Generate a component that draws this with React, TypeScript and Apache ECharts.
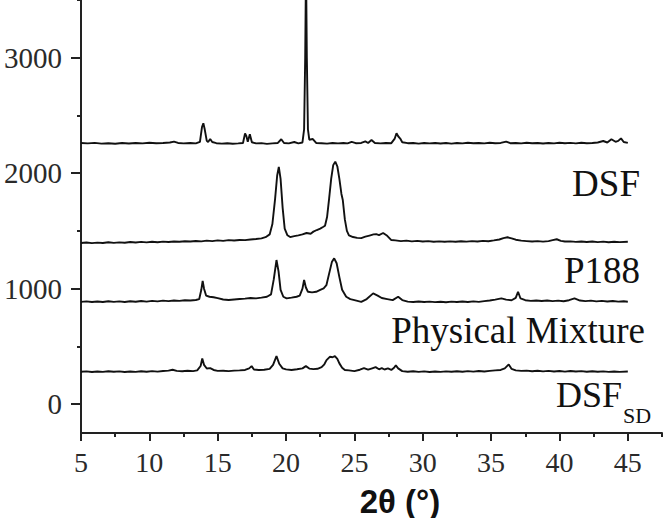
import React, { useEffect, useRef } from "react";
import * as echarts from "echarts";

const xMajorTicks = [5, 10, 15, 20, 25, 30, 35, 40, 45];
const xMinorTicks = [7.5, 12.5, 17.5, 22.5, 27.5, 32.5, 37.5, 42.5, 47.5];
const yMajorTicks = [0, 1000, 2000, 3000];
const yMinorTicks = [500, 1500, 2500, 3500];

const seriesNames = ["DSF", "P188", "Physical Mixture", "DSF_SD"];

const dsf: number[][] = [
  [5, 2262], [5.5, 2258], [6, 2263], [6.5, 2256], [7, 2260], [7.5, 2255], [8, 2261], [8.5, 2257], [9, 2262], [9.5, 2258],
  [10, 2264], [10.5, 2259], [11, 2262], [11.5, 2266], [11.8, 2274], [12.1, 2262], [12.5, 2258], [13, 2261], [13.4, 2258],
  [13.7, 2272], [13.85, 2400], [13.95, 2432], [14.05, 2380], [14.2, 2280], [14.3, 2270], [14.45, 2296], [14.6, 2270],
  [14.9, 2260], [15.3, 2256], [15.7, 2259], [16.1, 2255], [16.5, 2258], [16.85, 2262], [17.0, 2345], [17.1, 2320],
  [17.2, 2272], [17.35, 2337], [17.5, 2268], [17.8, 2258], [18.2, 2260], [18.6, 2254], [19.0, 2258], [19.4, 2262],
  [19.65, 2294], [19.85, 2262], [20.2, 2258], [20.6, 2270], [20.9, 2258], [21.2, 2266], [21.32, 2380], [21.4, 3000],
  [21.46, 3800], [21.52, 3000], [21.6, 2380], [21.7, 2290], [21.96, 2296], [22.2, 2262], [22.6, 2260], [23.0, 2256],
  [23.4, 2262], [23.8, 2258], [24.2, 2262], [24.5, 2258], [24.8, 2272], [25.1, 2260], [25.5, 2262], [25.8, 2276],
  [26.0, 2262], [26.25, 2288], [26.5, 2262], [26.9, 2258], [27.3, 2262], [27.7, 2260], [27.95, 2300], [28.08, 2346],
  [28.2, 2320], [28.35, 2300], [28.5, 2268], [28.9, 2260], [29.3, 2262], [29.7, 2256], [30.1, 2262], [30.5, 2258],
  [30.9, 2262], [31.3, 2257], [31.7, 2261], [32.1, 2256], [32.5, 2262], [32.9, 2258], [33.3, 2264], [33.7, 2259],
  [34.1, 2262], [34.5, 2258], [34.9, 2264], [35.3, 2260], [35.7, 2262], [36.1, 2274], [36.4, 2260], [36.8, 2262],
  [37.2, 2258], [37.6, 2264], [38.0, 2259], [38.4, 2262], [38.8, 2257], [39.2, 2262], [39.6, 2258], [40.0, 2264],
  [40.4, 2260], [40.8, 2263], [41.2, 2258], [41.6, 2264], [42.0, 2260], [42.4, 2262], [42.8, 2266], [43.2, 2279],
  [43.5, 2266], [43.8, 2294], [44.1, 2272], [44.3, 2280], [44.5, 2302], [44.7, 2270], [45, 2262],
];

const p188: number[][] = [
  [5, 1395], [5.4, 1400], [5.8, 1394], [6.2, 1399], [6.6, 1396], [7, 1402], [7.4, 1397], [7.8, 1401], [8.2, 1398],
  [8.6, 1404], [9, 1400], [9.4, 1405], [9.8, 1401], [10.2, 1406], [10.6, 1402], [11, 1407], [11.4, 1404], [11.8, 1409],
  [12.2, 1406], [12.6, 1411], [13, 1408], [13.4, 1413], [13.8, 1410], [14.2, 1416], [14.6, 1412], [15, 1418],
  [15.4, 1414], [15.8, 1420], [16.2, 1417], [16.6, 1422], [17, 1420], [17.4, 1426], [17.8, 1430], [18.2, 1436],
  [18.5, 1446], [18.8, 1470], [19.0, 1560], [19.2, 1780], [19.35, 1980], [19.47, 2054], [19.6, 1950], [19.75, 1700],
  [19.9, 1520], [20.1, 1462], [20.3, 1447], [20.6, 1455], [20.9, 1462], [21.2, 1470], [21.5, 1482], [21.8, 1476],
  [22.0, 1494], [22.25, 1508], [22.5, 1520], [22.7, 1534], [22.85, 1545], [23.0, 1620], [23.15, 1780], [23.3, 1950],
  [23.45, 2070], [23.6, 2100], [23.75, 2060], [23.9, 1950], [24.05, 1820], [24.15, 1768], [24.3, 1600], [24.45, 1500],
  [24.6, 1462], [24.9, 1447], [25.2, 1440], [25.5, 1438], [25.8, 1450], [26.1, 1460], [26.4, 1470], [26.6, 1472],
  [26.8, 1464], [27.1, 1482], [27.4, 1458], [27.7, 1421], [28.0, 1418], [28.4, 1412], [28.8, 1416], [29.2, 1410],
  [29.6, 1414], [30, 1408], [30.4, 1412], [30.8, 1406], [31.2, 1410], [31.6, 1406], [32, 1410], [32.4, 1406],
  [32.8, 1411], [33.2, 1407], [33.6, 1412], [34, 1409], [34.4, 1414], [34.8, 1411], [35.2, 1418], [35.6, 1426],
  [35.9, 1438], [36.2, 1445], [36.5, 1436], [36.8, 1424], [37.2, 1416], [37.6, 1412], [38, 1408], [38.4, 1412],
  [38.8, 1407], [39.2, 1412], [39.5, 1420], [39.8, 1428], [40.1, 1414], [40.4, 1408], [40.8, 1410], [41.2, 1405],
  [41.6, 1409], [42, 1404], [42.4, 1408], [42.8, 1403], [43.2, 1407], [43.6, 1402], [44, 1406], [44.4, 1403], [45, 1406],
];

const physicalMixture: number[][] = [
  [5, 886], [5.4, 890], [5.8, 884], [6.2, 889], [6.6, 885], [7, 891], [7.4, 886], [7.8, 890], [8.2, 885], [8.6, 891],
  [9, 887], [9.4, 893], [9.8, 888], [10.2, 894], [10.6, 890], [11, 896], [11.4, 892], [11.8, 898], [12.2, 894],
  [12.6, 900], [13, 897], [13.4, 902], [13.65, 910], [13.8, 990], [13.9, 1068], [14.0, 1000], [14.15, 940], [14.4, 930],
  [14.7, 926], [15.0, 918], [15.4, 906], [15.8, 902], [16.2, 906], [16.6, 910], [17.0, 914], [17.4, 919], [17.8, 916],
  [18.2, 922], [18.6, 930], [18.9, 950], [19.1, 1080], [19.3, 1248], [19.45, 1150], [19.6, 990], [19.8, 930],
  [20.04, 916], [20.4, 922], [20.77, 930], [21.0, 940], [21.2, 1000], [21.32, 1075], [21.45, 1010], [21.6, 973],
  [21.9, 968], [22.2, 973], [22.5, 990], [22.75, 1003], [22.95, 1030], [23.15, 1130], [23.35, 1230], [23.52, 1263],
  [23.7, 1220], [23.9, 1100], [24.1, 990], [24.4, 930], [24.7, 910], [25.0, 901], [25.5, 886], [25.9, 910],
  [26.37, 959], [26.7, 940], [27.0, 919], [27.4, 910], [27.8, 901], [28.2, 930], [28.5, 901], [28.9, 888], [29.3, 884],
  [29.7, 889], [30.1, 884], [30.5, 888], [30.9, 883], [31.3, 887], [31.7, 882], [32.1, 888], [32.5, 884], [32.9, 889],
  [33.3, 885], [33.7, 890], [34.1, 886], [34.5, 892], [34.9, 897], [35.3, 905], [35.75, 916], [36.1, 905], [36.5, 900],
  [36.8, 920], [36.97, 973], [37.15, 915], [37.5, 900], [37.9, 894], [38.3, 898], [38.7, 893], [39.1, 897], [39.5, 892],
  [39.9, 896], [40.3, 891], [40.7, 900], [41.1, 916], [41.5, 897], [41.9, 892], [42.3, 896], [42.7, 890], [43.1, 894],
  [43.5, 889], [43.9, 893], [44.3, 888], [44.7, 891], [45, 887],
];

const dsfSD: number[][] = [
  [5, 280], [5.4, 284], [5.8, 278], [6.2, 283], [6.6, 279], [7, 285], [7.4, 280], [7.8, 284], [8.2, 278], [8.6, 283],
  [9, 279], [9.4, 285], [9.8, 281], [10.2, 286], [10.6, 282], [11, 287], [11.4, 290], [11.7, 298], [12.0, 288],
  [12.4, 285], [12.8, 289], [13.2, 286], [13.5, 292], [13.75, 330], [13.87, 396], [14.0, 340], [14.2, 309], [14.45, 312],
  [14.7, 296], [15.0, 288], [15.4, 289], [15.8, 286], [16.2, 290], [16.6, 292], [17.0, 296], [17.3, 310], [17.48, 329],
  [17.65, 300], [18.0, 296], [18.4, 298], [18.8, 305], [19.05, 340], [19.3, 416], [19.5, 350], [19.75, 310], [20.0, 301],
  [20.4, 296], [20.8, 302], [21.2, 310], [21.45, 329], [21.7, 308], [22.0, 303], [22.3, 306], [22.6, 320], [22.8, 345],
  [22.96, 381], [23.2, 410], [23.4, 406], [23.57, 416], [23.75, 392], [23.9, 353], [24.1, 315], [24.3, 295], [24.6, 292],
  [25.0, 286], [25.4, 298], [25.7, 312], [26.0, 298], [26.3, 310], [26.55, 320], [26.8, 302], [27.0, 312], [27.2, 300],
  [27.45, 309], [27.7, 296], [27.9, 315], [28.03, 335], [28.2, 310], [28.5, 286], [28.9, 281], [29.3, 285], [29.7, 279],
  [30.1, 284], [30.5, 278], [30.9, 283], [31.3, 279], [31.7, 284], [32.1, 280], [32.5, 285], [32.9, 281], [33.3, 286],
  [33.7, 282], [34.1, 287], [34.5, 283], [34.9, 288], [35.3, 292], [35.7, 296], [36.0, 310], [36.29, 344], [36.5, 305],
  [36.8, 292], [37.2, 288], [37.6, 290], [38.0, 285], [38.4, 289], [38.8, 284], [39.2, 288], [39.6, 283], [40.0, 287],
  [40.4, 282], [40.8, 287], [41.2, 283], [41.6, 286], [42.0, 281], [42.4, 285], [42.8, 280], [43.2, 284], [43.6, 279],
  [44.0, 283], [44.4, 279], [45, 282],
];

const AXIS_COLOR = "#222";
const SERIF = "'Liberation Serif', 'Times New Roman', serif";

export default function App() {
  const ref = useRef<HTMLDivElement>(null);

  useEffect(() => {
    document.body.style.margin = "0";
    if (!ref.current) return;
    const chart = echarts.init(ref.current, undefined, { renderer: "svg" });
    const seriesData = [dsf, p188, physicalMixture, dsfSD];
    const plain = (v: number) => String(v);

    const xBase = {
      type: "value" as const,
      min: 5,
      max: 47.5,
      position: "bottom" as const,
      offset: 0,
      splitLine: { show: false },
      minorTick: { show: false },
    };
    const yBase = {
      type: "value" as const,
      min: -250,
      max: 3500,
      position: "left" as const,
      offset: 0,
      splitLine: { show: false },
      minorTick: { show: false },
    };
    const tickStyle = { color: AXIS_COLOR, width: 2 };

    chart.setOption({
      animation: false,
      backgroundColor: "#fff",
      grid: { left: 81, right: 4, top: 0, bottom: 85, containLabel: false },
      xAxis: [
        {
          ...xBase,
          axisLine: { show: true, onZero: false, lineStyle: { color: AXIS_COLOR, width: 2 } },
          axisTick: { show: true, customValues: xMajorTicks, length: 8, inside: false, lineStyle: tickStyle },
          axisLabel: {
            show: true,
            customValues: xMajorTicks,
            formatter: plain,
            fontFamily: SERIF,
            fontSize: 28,
            color: "#2a2a2a",
            margin: 15,
          },
        },
        {
          ...xBase,
          axisLine: { show: false, onZero: false },
          axisTick: { show: true, customValues: xMinorTicks, length: 4, inside: false, lineStyle: tickStyle },
          axisLabel: { show: false },
        },
      ],
      yAxis: [
        {
          ...yBase,
          axisLine: { show: true, onZero: false, lineStyle: { color: AXIS_COLOR, width: 2 } },
          axisTick: { show: true, customValues: yMajorTicks, length: 10, inside: false, lineStyle: tickStyle },
          axisLabel: {
            show: true,
            customValues: yMajorTicks,
            formatter: plain,
            fontFamily: SERIF,
            fontSize: 29,
            color: "#2a2a2a",
            margin: 19,
          },
        },
        {
          ...yBase,
          axisLine: { show: false, onZero: false },
          axisTick: { show: true, customValues: yMinorTicks, length: 4, inside: false, lineStyle: tickStyle },
          axisLabel: { show: false },
        },
      ],
      series: seriesData.map((d, i) => ({
        name: seriesNames[i],
        type: "line",
        data: d,
        xAxisIndex: 0,
        yAxisIndex: 0,
        showSymbol: false,
        symbol: "none",
        clip: true,
        silent: true,
        lineStyle: { color: "#111", width: 1.9 },
      })),
      graphic: [
        {
          type: "text",
          x: 640,
          y: 183,
          style: { text: "DSF", font: `37px ${SERIF}`, fill: "#111", align: "right", verticalAlign: "middle" },
        },
        {
          type: "text",
          x: 640,
          y: 270,
          style: { text: "P188", font: `37px ${SERIF}`, fill: "#111", align: "right", verticalAlign: "middle" },
        },
        {
          type: "text",
          x: 645,
          y: 330,
          style: { text: "Physical Mixture", font: `37px ${SERIF}`, fill: "#111", align: "right", verticalAlign: "middle" },
        },
        {
          type: "text",
          x: 622,
          y: 395,
          style: { text: "DSF", font: `36px ${SERIF}`, fill: "#111", align: "right", verticalAlign: "middle" },
        },
        {
          type: "text",
          x: 623,
          y: 415,
          style: { text: "SD", font: `22px ${SERIF}`, fill: "#111", align: "left", verticalAlign: "middle" },
        },
        {
          type: "text",
          x: 400,
          y: 501,
          style: {
            text: "2θ (°)",
            font: "bold 33px 'Liberation Sans', Arial, sans-serif",
            fill: "#111",
            align: "center",
            verticalAlign: "middle",
          },
        },
      ],
    });

    return () => {
      chart.dispose();
    };
  }, []);

  return <div ref={ref} style={{ width: 666, height: 518 }} />;
}
